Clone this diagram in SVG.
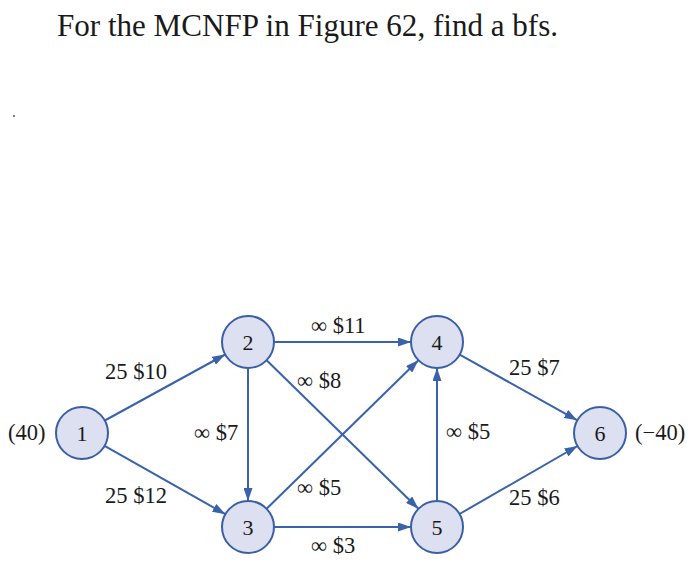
<svg xmlns="http://www.w3.org/2000/svg" width="700" height="563" viewBox="0 0 700 563">
<defs>
<marker id="arr" viewBox="0 0 13 9" refX="13" refY="4.5" markerWidth="13" markerHeight="9" markerUnits="userSpaceOnUse" orient="auto">
<path d="M0,0 L13,4.5 L0,9 z" fill="#3a62aa"/>
</marker>
<style>
.t{font-family:"Liberation Serif","Times New Roman",serif;fill:#1a1a1a}
.lbl{font-size:22.5px}
.nd{fill:#dde0f0;stroke:#3a5fa6;stroke-width:2}
.nt{font-size:22px;text-anchor:middle}
.e{stroke:#3a62aa;stroke-width:2;fill:none;marker-end:url(#arr)}
</style>
</defs>
<rect width="700" height="563" fill="#ffffff"/>
<text class="t" x="57" y="36" font-size="31" textLength="501" lengthAdjust="spacingAndGlyphs">For the MCNFP in Figure 62, find a bfs.</text>
<circle cx="14" cy="116" r="1" fill="#555"/>
<g id="connectors">
<line class="e" x1="104.8" y1="420.5" x2="225.2" y2="354.5"/>
<line class="e" x1="104.6" y1="445.8" x2="225.4" y2="514.2"/>
<line class="e" x1="248" y1="368" x2="248" y2="501"/>
<line class="e" x1="274" y1="342" x2="411" y2="342"/>
<line class="e" x1="266.6" y1="360.2" x2="418.4" y2="508.8"/>
<line class="e" x1="266.6" y1="508.8" x2="418.4" y2="360.2"/>
<line class="e" x1="274" y1="527" x2="411" y2="527"/>
<line class="e" x1="437" y1="501" x2="437" y2="368"/>
<line class="e" x1="459.7" y1="354.7" x2="577.3" y2="420.3"/>
<line class="e" x1="459.5" y1="514" x2="577.5" y2="446"/>
</g>
<g id="edge-labels" class="t lbl">
<text x="105" y="379">25 $10</text>
<text x="105" y="503">25 $12</text>
<text x="194" y="440">∞ $7</text>
<text x="311" y="333">∞ $11</text>
<text x="297" y="388">∞ $8</text>
<text x="297" y="495">∞ $5</text>
<text x="311" y="553">∞ $3</text>
<text x="446" y="439">∞ $5</text>
<text x="509" y="375">25 $7</text>
<text x="509" y="505">25 $6</text>
</g>
<g id="node1"><circle class="nd" cx="82" cy="433" r="26"/><text class="t nt" x="82" y="441">1</text></g>
<g id="node2"><circle class="nd" cx="248" cy="342" r="26"/><text class="t nt" x="248" y="350">2</text></g>
<g id="node3"><circle class="nd" cx="248" cy="527" r="26"/><text class="t nt" x="248" y="535">3</text></g>
<g id="node4"><circle class="nd" cx="437" cy="342" r="26"/><text class="t nt" x="437" y="350">4</text></g>
<g id="node5"><circle class="nd" cx="437" cy="527" r="26"/><text class="t nt" x="437" y="535">5</text></g>
<g id="node6"><circle class="nd" cx="600" cy="433" r="26"/><text class="t nt" x="600" y="441">6</text></g>
<text class="t lbl" x="8" y="440">(40)</text>
<text class="t lbl" x="635" y="440">(−40)</text>
</svg>
